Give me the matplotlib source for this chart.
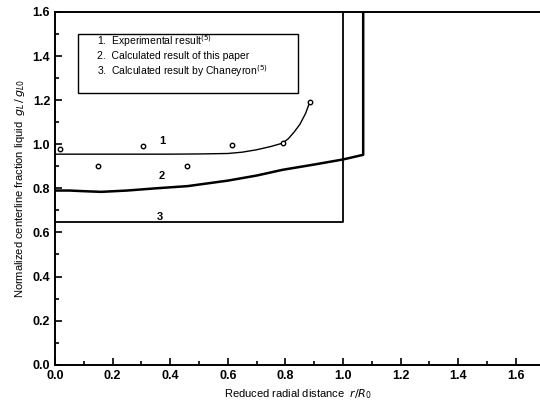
import numpy as np
import matplotlib
matplotlib.use("Agg")
from matplotlib import pyplot as plt
from matplotlib.patches import Rectangle

plt.rcParams['font.family'] = ['Liberation Sans', 'DejaVu Sans']

# experimental points (curve 1)
exp_x = [0.017, 0.149, 0.304, 0.459, 0.616, 0.79, 0.885]
exp_y = [0.977, 0.901, 0.991, 0.901, 0.996, 1.005, 1.193]

# curve 1 (fit through experiment)
c1_x = [0.0, 0.1, 0.2, 0.3, 0.4, 0.5, 0.6, 0.65, 0.7, 0.75, 0.79, 0.81, 0.83, 0.85, 0.87, 0.885]
c1_y = [0.955, 0.955, 0.955, 0.955, 0.955, 0.956, 0.958, 0.964, 0.975, 0.99, 1.005, 1.025, 1.055, 1.09, 1.14, 1.193]

# curve 2 (this paper)
c2_x = [0.0, 0.05, 0.1, 0.16, 0.25, 0.35, 0.46, 0.6, 0.7, 0.79, 0.9, 1.0, 1.07, 1.07]
c2_y = [0.79, 0.79, 0.787, 0.784, 0.79, 0.80, 0.81, 0.835, 0.858, 0.884, 0.908, 0.931, 0.952, 1.6]

# curve 3 (Chaneyron)
c3_x = [0.0, 1.0, 1.0]
c3_y = [0.645, 0.645, 1.6]

legend_lines = ["1.  Experimental result$^{(5)}$",
                "2.  Calculated result of this paper",
                "3.  Calculated result by Chaneyron$^{(5)}$"]

fig = plt.figure(figsize=(5.4, 4.13), dpi=100)
ax = fig.add_axes([0.102, 0.117, 0.898, 0.854])

ax.plot(c1_x, c1_y, color="black", lw=1.0)
ax.plot(c2_x, c2_y, color="black", lw=1.8)
ax.plot(c3_x, c3_y, color="black", lw=1.3)
ax.plot(exp_x, exp_y, "o", ms=3.2, mfc="white", mec="black", mew=1.0)

ax.text(0.374, 1.013, "1", fontsize=8, fontweight="bold", ha="center", va="center")
ax.text(0.371, 0.856, "2", fontsize=8, fontweight="bold", ha="center", va="center")
ax.text(0.365, 0.672, "3", fontsize=8, fontweight="bold", ha="center", va="center")

ax.add_patch(Rectangle((0.08, 1.231), 0.762, 0.267, fill=False, ec="black", lw=1.0))
for i, s in enumerate(legend_lines):
    ax.text(0.146, 1.468 - i * 0.068, s, fontsize=7.5, ha="left", va="center")

ax.set_xlim(0, 1.684)
ax.set_ylim(0, 1.6)
ax.set_xticks(np.arange(0, 1.61, 0.2))
ax.set_xticks(np.arange(0, 1.65, 0.1), minor=True)
ax.set_yticks(np.arange(0, 1.61, 0.2))
ax.set_yticks(np.arange(0, 1.61, 0.1), minor=True)
ax.xaxis.set_major_formatter(matplotlib.ticker.FormatStrFormatter("%.1f"))
ax.yaxis.set_major_formatter(matplotlib.ticker.FormatStrFormatter("%.1f"))
ax.tick_params(which="both", direction="in", width=1.2, labelsize=9)
ax.tick_params(which="major", length=5)
ax.tick_params(which="minor", length=3)
for lab in ax.get_xticklabels() + ax.get_yticklabels():
    lab.set_fontweight("bold")
ax.spines["right"].set_visible(False)
for sp in ["left", "bottom", "top"]:
    ax.spines[sp].set_linewidth(1.4)

ax.set_xlabel("Reduced radial distance  $r/R_0$", fontsize=8)
ax.set_ylabel("Normalized centerline fraction liquid  $g_L\\,/\\,g_{L0}$", fontsize=8)

fig.savefig("out.png", dpi=100)
